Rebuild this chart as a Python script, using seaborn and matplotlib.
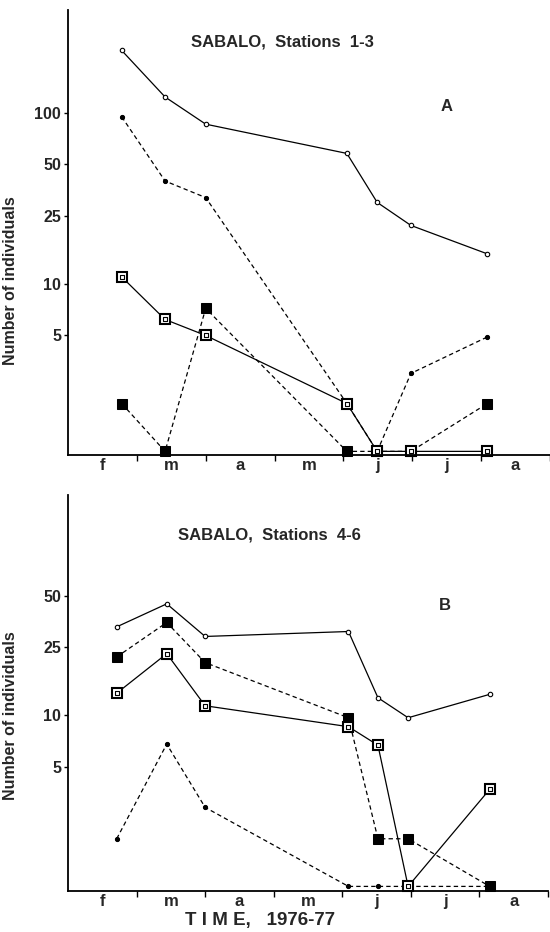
import matplotlib
matplotlib.use("Agg")
import matplotlib.pyplot as plt
import seaborn as sns
import pandas as pd

# ---- data ----
month_labels = ["f", "m", "a", "m", "j", "j", "a"]
yticks_a = [5, 10, 25, 50, 100]
yticks_b = [5, 10, 25, 50]

# Panel A, Stations 1-3 (time in months since 1 Feb 1976)
time_a = [0.78, 1.41, 2.0, 4.05, 4.49, 4.98, 6.09]
circle_a = [232, 124, 86, 58, 30, 22, 15]
dot_a = [95, 40, 32, 2.0, 1.05, 3.0, 4.9]
osq_a = [11, 6.2, 5.0, 2.0, 1.05, 1.05, 1.05]
fsq_a = [2.0, 1.05, 7.2, 1.05, 1.05, 1.05, 2.0]

# Panel B, Stations 4-6
time_b = [0.71, 1.44, 2.0, 4.09, 4.52, 4.96, 6.15]
circle_b = [33, 45, 29, 31, 12.7, 9.7, 13.3]
fsq_b = [22, 35, 20.4, 9.7, 1.9, 1.9, 1.0]
osq_b = [13.5, 23, 11.4, 8.6, 6.7, 1.0, 3.7]
dot_b = [1.9, 6.8, 2.9, 1.0, 1.0, 1.0, 1.0]

sns.set_theme(style="white")
plt.rcParams["font.family"] = ["Liberation Sans", "DejaVu Sans"]
plt.rcParams["font.weight"] = "bold"

fig = plt.figure(figsize=(5.5, 9.32), dpi=100)
axA = fig.add_axes([68/550, 1-455/932, 482/550, 445/932])
axB = fig.add_axes([68/550, 1-891/932, 480/550, 396/932])

LW = 0.9


def draw(ax, t, circ, dots, osq, fsq):
    df = pd.DataFrame({"t": t, "circ": circ, "dots": dots, "osq": osq, "fsq": fsq})
    sns.lineplot(data=df, x="t", y="circ", ax=ax, color="black", lw=LW, sort=False,
                 estimator=None, marker="o", markersize=3.2, markerfacecolor="white",
                 markeredgecolor="black", markeredgewidth=0.8, clip_on=False)
    sns.lineplot(data=df, x="t", y="dots", ax=ax, color="black", lw=LW, sort=False,
                 estimator=None, linestyle=(0, (3.5, 2.5)), marker="o", markersize=3,
                 markerfacecolor="black", markeredgecolor="black", clip_on=False)
    sns.lineplot(data=df, x="t", y="fsq", ax=ax, color="black", lw=LW, sort=False,
                 estimator=None, linestyle=(0, (3.5, 2.5)), marker="s", markersize=7.5,
                 markerfacecolor="black", markeredgecolor="black", clip_on=False)
    sns.lineplot(data=df, x="t", y="osq", ax=ax, color="black", lw=LW, sort=False,
                 estimator=None, marker="s", markersize=7.5, markerfacecolor="white",
                 markeredgecolor="black", markeredgewidth=1.5, clip_on=False)
    sns.scatterplot(data=df, x="t", y="osq", ax=ax, marker="s", s=9, color="white",
                    edgecolor="black", linewidth=0.8, clip_on=False, zorder=5)


draw(axA, time_a, circle_a, dot_a, osq_a, fsq_a)
draw(axB, time_b, circle_b, dot_b, osq_b, fsq_b)

for ax, lim, yt, xmax in [(axA, (1.0, 400), yticks_a, 7.0), (axB, (0.94, 195), yticks_b, 6.97)]:
    ax.set_yscale("log")
    ax.set_ylim(*lim)
    ax.set_xlim(0, xmax)
    ax.set_yticks(yt)
    ax.set_yticklabels([str(v) for v in yt], fontsize=11.5, fontweight="bold")
    ax.yaxis.set_minor_locator(matplotlib.ticker.NullLocator())
    ax.set_xticks(range(1, 8))
    ax.set_xticklabels([])
    ax.set_xticks([i + 0.5 for i in range(7)], minor=True)
    ax.set_xticklabels(month_labels, minor=True, fontsize=12, fontweight="bold")
    ax.tick_params(axis="x", which="major", direction="out", length=4, width=1,
                   color="black", bottom=True)
    ax.tick_params(axis="x", which="minor", length=0, pad=2, bottom=True)
    ax.tick_params(axis="y", direction="out", length=3, width=1, color="black",
                   left=True, pad=2)
    for s in ["top", "right"]:
        ax.spines[s].set_visible(False)
    for s in ["left", "bottom"]:
        ax.spines[s].set_color("black")
        ax.spines[s].set_linewidth(1.3)
    ax.set_xlabel("")
    ax.set_ylabel("Number of individuals", fontsize=11.5, fontweight="bold")
    ax.patch.set_alpha(0)

axA.yaxis.set_label_coords(-0.104, 0.391)
axB.yaxis.set_label_coords(-0.104, 0.444)

axA.text(0.444, 0.928, "SABALO,  Stations  1-3", transform=axA.transAxes,
         ha="center", va="center", fontsize=12, fontweight="bold")
axA.text(0.786, 0.784, "A", transform=axA.transAxes, ha="center", va="center",
         fontsize=12, fontweight="bold")
axB.text(0.42, 0.899, "SABALO,  Stations  4-6", transform=axB.transAxes,
         ha="center", va="center", fontsize=12, fontweight="bold")
axB.text(0.785, 0.722, "B", transform=axB.transAxes, ha="center", va="center",
         fontsize=12, fontweight="bold")

fig.text(260/550, 1-920/932, "T I M E,   1976-77", ha="center", va="center",
         fontsize=13.5, fontweight="bold")

fig.savefig("out.png", dpi=100)
